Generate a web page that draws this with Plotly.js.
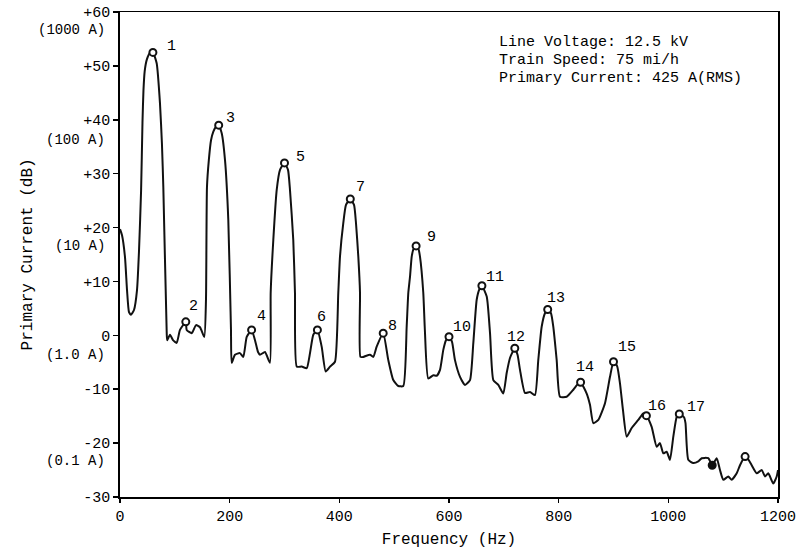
<!DOCTYPE html>
<html>
<head>
<meta charset="utf-8">
<script src="https://cdn.plot.ly/plotly-3.0.1.min.js"></script>
<style>html,body{margin:0;padding:0;background:#fff}#chart{width:808px;height:552px}</style>
</head>
<body>
<div id="chart"></div>
<script>
// Spectrum trace (frequency in Hz, level in dB)
const freqHz = [0,3.6,9.1,12.8,16.4,20.1,25.5,31.0,34.7,38.5,41.0,42.8,45.0,49,54,60,66.9,72.9,76.5,79.0,85.2,86,91.2,96.7,103.4,109.4,120,121.6,130.8,138.6,145.9,153.7,156.8,158.6,162,166,170.2,175,180,185.5,191.5,197.5,202.4,203.7,209.7,218.8,224.9,231.1,240,246.2,251.7,255.3,264.4,273.5,274.8,279.6,285.8,291.8,300,306.4,310.0,316.0,319.1,322.3,331.4,340.5,346.5,352.5,360,367.8,375.1,383.0,392.1,398.1,401.2,407.2,412.1,420,426.8,430.4,434.6,437.7,438.5,443.7,455.9,461.9,468.1,480,489.3,498.4,507.5,516.7,522.8,525.8,528.9,532.0,535.2,540,544.4,547.1,553.1,556,562.2,571.4,577.6,583.6,589.6,594.5,600,605.5,610.9,620.1,629.2,638.3,644.3,650.5,655.6,660,668.8,674.8,680.8,689.9,699.0,705.2,711.2,720,725,729.5,738.6,747.7,756.8,762.8,769.0,775,780,786,790.2,796.4,802.4,814.6,826.7,835.2,840,851.1,857.1,863.2,872.3,884.5,893.6,900,906.6,911.8,917.3,924.1,933.2,945.2,954.3,960,969.6,978.8,984.8,990.8,997.0,1003,1009.1,1015.3,1020,1028.6,1031.3,1036.4,1045.5,1054.6,1060.8,1072.9,1080,1088.2,1094.2,1100.2,1109.3,1115.5,1124.7,1130.7,1140,1146.3,1152.0,1161.2,1170.3,1176.3,1182.3,1191.4,1197.6,1200];
const levelDb = [19.7,18.6,14.5,8.4,4.3,3.8,4.7,8.4,15.8,27.0,39.5,45.5,49.0,51.2,52.3,52.5,50.5,43.1,35.5,27.5,0.4,-0.9,0.1,-0.9,-1.4,1.0,2.5,1.0,0.4,1.9,1.5,-0.3,6.6,27.5,32.5,36.2,37.8,38.7,39.0,37.5,32.5,21.4,1.0,-5.1,-3.6,-3.3,-4.0,-0.3,1.0,-0.9,-3.1,-3.6,-3.1,-5.1,7.9,17.7,27.0,30.7,32.0,30.7,27.0,17.7,7.9,-5.8,-5.8,-6.1,-3.3,0.1,1.0,-2.1,-6.7,-5.8,-4.9,7.9,14.6,20.8,24.2,25.3,24.2,20.8,14.6,7.9,-4.0,-4.0,-3.6,-4.0,-2.1,0.4,-4.6,-8.3,-9.4,-9.4,1.6,7.9,10.9,14.6,16.0,16.6,16.0,14.6,7.9,1.0,-8.0,-7.4,-7.5,-6.4,-2.7,-0.9,-0.25,-1.2,-4.6,-7.7,-9.2,-8.3,-1.5,6.6,8.6,9.2,7.2,0.4,-8.3,-9.2,-10.8,-7.0,-4.2,-2.4,-3.6,-6.4,-10.7,-10.5,-11.1,-4.6,1.6,4.1,4.8,4.1,1.6,-4.6,-11.4,-11.4,-10.1,-9.0,-8.7,-10.8,-12.9,-16.3,-15.7,-12.6,-7.7,-4.9,-5.7,-8.9,-13.9,-18.8,-17.2,-15.7,-14.5,-14.9,-17.0,-20.7,-20.0,-21.9,-21.6,-23.1,-18.8,-15.1,-14.6,-15.2,-16.3,-23.1,-23.7,-23.4,-22.8,-22.8,-24.1,-22.8,-25.0,-26.8,-26.2,-26.8,-25.6,-24.1,-22.5,-23.1,-24.1,-25.6,-25.0,-26.2,-25.6,-27.5,-26.2,-25.0];

// Harmonic markers
const harmFreq = [60,120,180,240,300,360,420,480,540,600,660,720,780,840,900,960,1020,1080,1140];
const harmDb = [52.5,2.5,39.0,1.0,32.0,1.0,25.3,0.4,16.6,-0.25,9.2,-2.4,4.8,-8.7,-4.9,-14.9,-14.6,-24.1,-22.5];
const harmLabels = ["1","2","3","4","5","6","7","8","9","10","11","12","13","14","15","16","17","",""];
const labelDx = [19,8,12,10,16,4,10,9,15,13,13,1,8,4,13,11,17,0,0];
const labelDy = [6,15,7,13,5,12,11,7,8,9,8,11,11,15,14,9,7,0,0];
const markerFill = ["#fff","#fff","#fff","#fff","#fff","#fff","#fff","#fff","#fff","#fff","#fff","#fff","#fff","#fff","#fff","#fff","#fff","#111","#fff"];

// Axis ticks
const yTickVals = [60,50,40,30,20,10,0,-10,-20,-30];
const yTickText = ["+60","+50","+40","+30","+20","+10","0","-10","-20","-30"];
const xTickVals = [0,200,400,600,800,1000,1200];
const ampVals = [60,40,20,0,-20];
const ampText = ["(1000 A)","(100 A)","(10 A)","(1.0 A)","(0.1 A)"];
const infoLines = ["Line Voltage: 12.5 kV","Train Speed: 75 mi/h","Primary Current: 425 A(RMS)"];

const FONT = "Courier New, Liberation Mono, monospace";
const annotations = [];
harmLabels.forEach((t,i)=>{
  if(!t) return;
  annotations.push({x:harmFreq[i], y:harmDb[i], xref:'x', yref:'y', text:t, showarrow:false,
    xshift:labelDx[i], yshift:labelDy[i], font:{family:FONT,size:15,color:'#000'}});
});
ampVals.forEach((v,i)=>{
  annotations.push({x:-0.02, y:v, xref:'paper', yref:'y', text:ampText[i], showarrow:false,
    xanchor:'right', yanchor:'middle', yshift:(i%2===1?-20:-18), font:{family:FONT,size:14,color:'#000'}});
});
infoLines.forEach((t,i)=>{
  annotations.push({x:0.573, y:0.938 - i*0.0371, xref:'paper', yref:'paper', text:t, showarrow:false,
    xanchor:'left', yanchor:'middle', font:{family:FONT,size:15,color:'#000'}});
});
annotations.push({x:-0.14, y:0.5, xref:'paper', yref:'paper', text:'Primary Current (dB)', textangle:-90,
  showarrow:false, xanchor:'center', yanchor:'middle', font:{family:FONT,size:16,color:'#000'}});

const traces = [
  {x:freqHz, y:levelDb, type:'scatter', mode:'lines', line:{color:'#111', width:2, shape:'spline', smoothing:0.5}, hoverinfo:'x+y'},
  {x:harmFreq, y:harmDb, type:'scatter', mode:'markers', marker:{symbol:'circle', size:7, color:markerFill, line:{color:'#111', width:2}}}
];

const layout = {
  width:808, height:552, showlegend:false,
  paper_bgcolor:'#fff', plot_bgcolor:'#fff',
  margin:{l:120, r:30, t:12, b:55},
  font:{family:FONT, size:15, color:'#000'},
  xaxis:{range:[0,1200], tickvals:xTickVals, ticks:'outside', ticklen:4, tickwidth:1.5, tickcolor:'#000',
    showline:true, mirror:true, linecolor:'#000', linewidth:1.5, showgrid:false, zeroline:false,
    tickfont:{family:FONT,size:15,color:'#000'},
    title:{text:'Frequency (Hz)', font:{family:FONT,size:16,color:'#000'}, standoff:8}},
  yaxis:{range:[-30,60], tickvals:yTickVals, ticktext:yTickText, ticks:'outside', ticklen:5, tickwidth:1.5, tickcolor:'#000',
    showline:true, mirror:true, linecolor:'#000', linewidth:1.8, showgrid:false, zeroline:false,
    tickfont:{family:FONT,size:15,color:'#000'}},
  annotations:annotations
};
Plotly.newPlot('chart', traces, layout, {staticPlot:true, displayModeBar:false});
</script>
</body>
</html>
